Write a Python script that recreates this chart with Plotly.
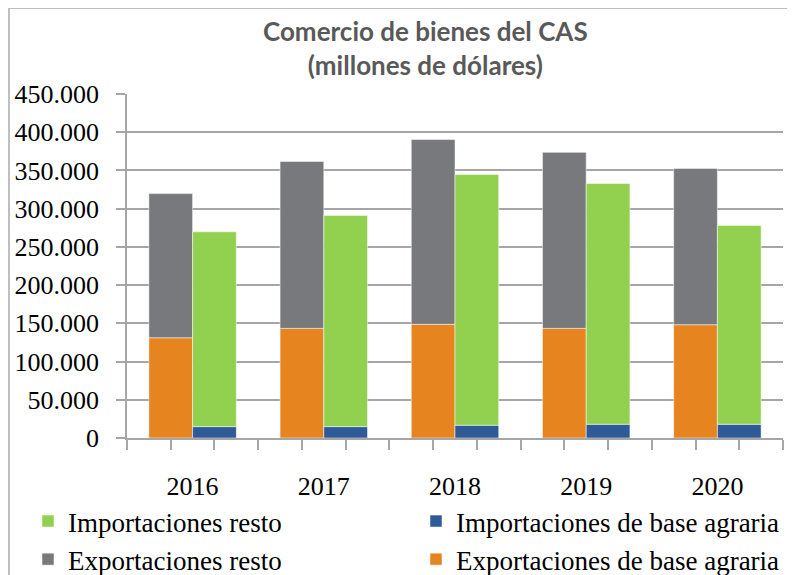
import plotly.graph_objects as go

years = [2016, 2017, 2018, 2019, 2020]
exp_agraria = [131100, 143400, 148700, 143400, 148200]
exp_resto = [188600, 218400, 241700, 230300, 204400]
imp_agraria = [14900, 14900, 16700, 18000, 18000]
imp_resto = [254800, 276300, 328000, 314900, 260100]

C_ORANGE = "#E6841F"
C_GRAY = "#78797C"
C_GREEN = "#92D050"
C_BLUE = "#2E5B98"
SERIF = "Liberation Serif"
FS = 26

# page has an 8px body margin; figure coordinates = page coordinates - 8
W, H = 787, 567
L, R, T, B = 119, 12, 86, 137
pw, ph = W - L - R, H - T - B

def px_x(x):
    return (x - L) / pw

def px_y(y):
    return (H - B - y) / ph

line = dict(color="rgba(255,255,255,0.5)", width=1)

fig = go.Figure()
fig.add_trace(go.Bar(x=years, y=exp_agraria, name="Exportaciones de base agraria",
                     offsetgroup="exp", marker=dict(color=C_ORANGE, line=line), legendrank=4))
fig.add_trace(go.Bar(x=years, y=exp_resto, base=exp_agraria, name="Exportaciones resto",
                     offsetgroup="exp", marker=dict(color=C_GRAY, line=line), legendrank=3))
fig.add_trace(go.Bar(x=years, y=imp_agraria, name="Importaciones de base agraria",
                     offsetgroup="imp", marker=dict(color=C_BLUE, line=line), legendrank=2))
fig.add_trace(go.Bar(x=years, y=imp_resto, base=imp_agraria, name="Importaciones resto",
                     offsetgroup="imp", marker=dict(color=C_GREEN, line=line), legendrank=1))

fig.update_layout(
    width=W, height=H,
    margin=dict(l=L, r=R, t=T, b=B, autoexpand=False),
    paper_bgcolor="white", plot_bgcolor="white",
    barmode="group", bargap=1/3, bargroupgap=0,
    separators=",.",
    font=dict(family=SERIF, size=FS, color="black"),
    legend=dict(
        orientation="h", x=px_x(20), xanchor="left", y=px_y(489), yanchor="top",
        entrywidth=343, entrywidthmode="pixels",
        font=dict(family=SERIF, size=27, color="black"),
        traceorder="normal", itemclick=False, bgcolor="rgba(0,0,0,0)",
    ),
    showlegend=True,
)

fig.add_annotation(
    text="<b>Comercio de bienes del CAS<br>(millones de dólares)</b>",
    xref="paper", yref="paper", x=px_x(417), y=px_y(40),
    xanchor="center", yanchor="middle", showarrow=False,
    font=dict(family="Lato", size=26, color="#595959"),
)

fig.update_xaxes(
    range=[2015.5, 2020.5], tickmode="array", tickvals=years,
    ticktext=[str(y) for y in years],
    ticks="outside", ticklen=24, tickcolor="rgba(0,0,0,0)",
    showline=True, linecolor="#A6A6A6", linewidth=1.5,
    showgrid=False, zeroline=False,
    minor=dict(ticks="outside", tick0=2015.5, dtick=1/3, ticklen=10,
               tickcolor="#A6A6A6", tickwidth=1.5, showgrid=False),
    tickfont=dict(family=SERIF, size=FS, color="black"),
)
fig.update_yaxes(
    range=[0, 450000], dtick=50000, tick0=0, tickformat=",d",
    ticks="outside", ticklen=9, tickcolor="#A6A6A6", tickwidth=1.5,
    showline=True, linecolor="#A6A6A6", linewidth=1.5,
    showgrid=True, gridcolor="#A6A6A6", gridwidth=1.5, zeroline=False,
    ticklabelstandoff=12,
    tickfont=dict(family=SERIF, size=FS, color="black"),
)

fig.add_shape(type="rect", xref="paper", yref="paper",
              x0=px_x(1), x1=px_x(W + 20), y0=px_y(H + 20), y1=px_y(0),
              line=dict(color="#BFBFBF", width=2), fillcolor="rgba(0,0,0,0)", layer="below")

fig.write_html("out.html")
